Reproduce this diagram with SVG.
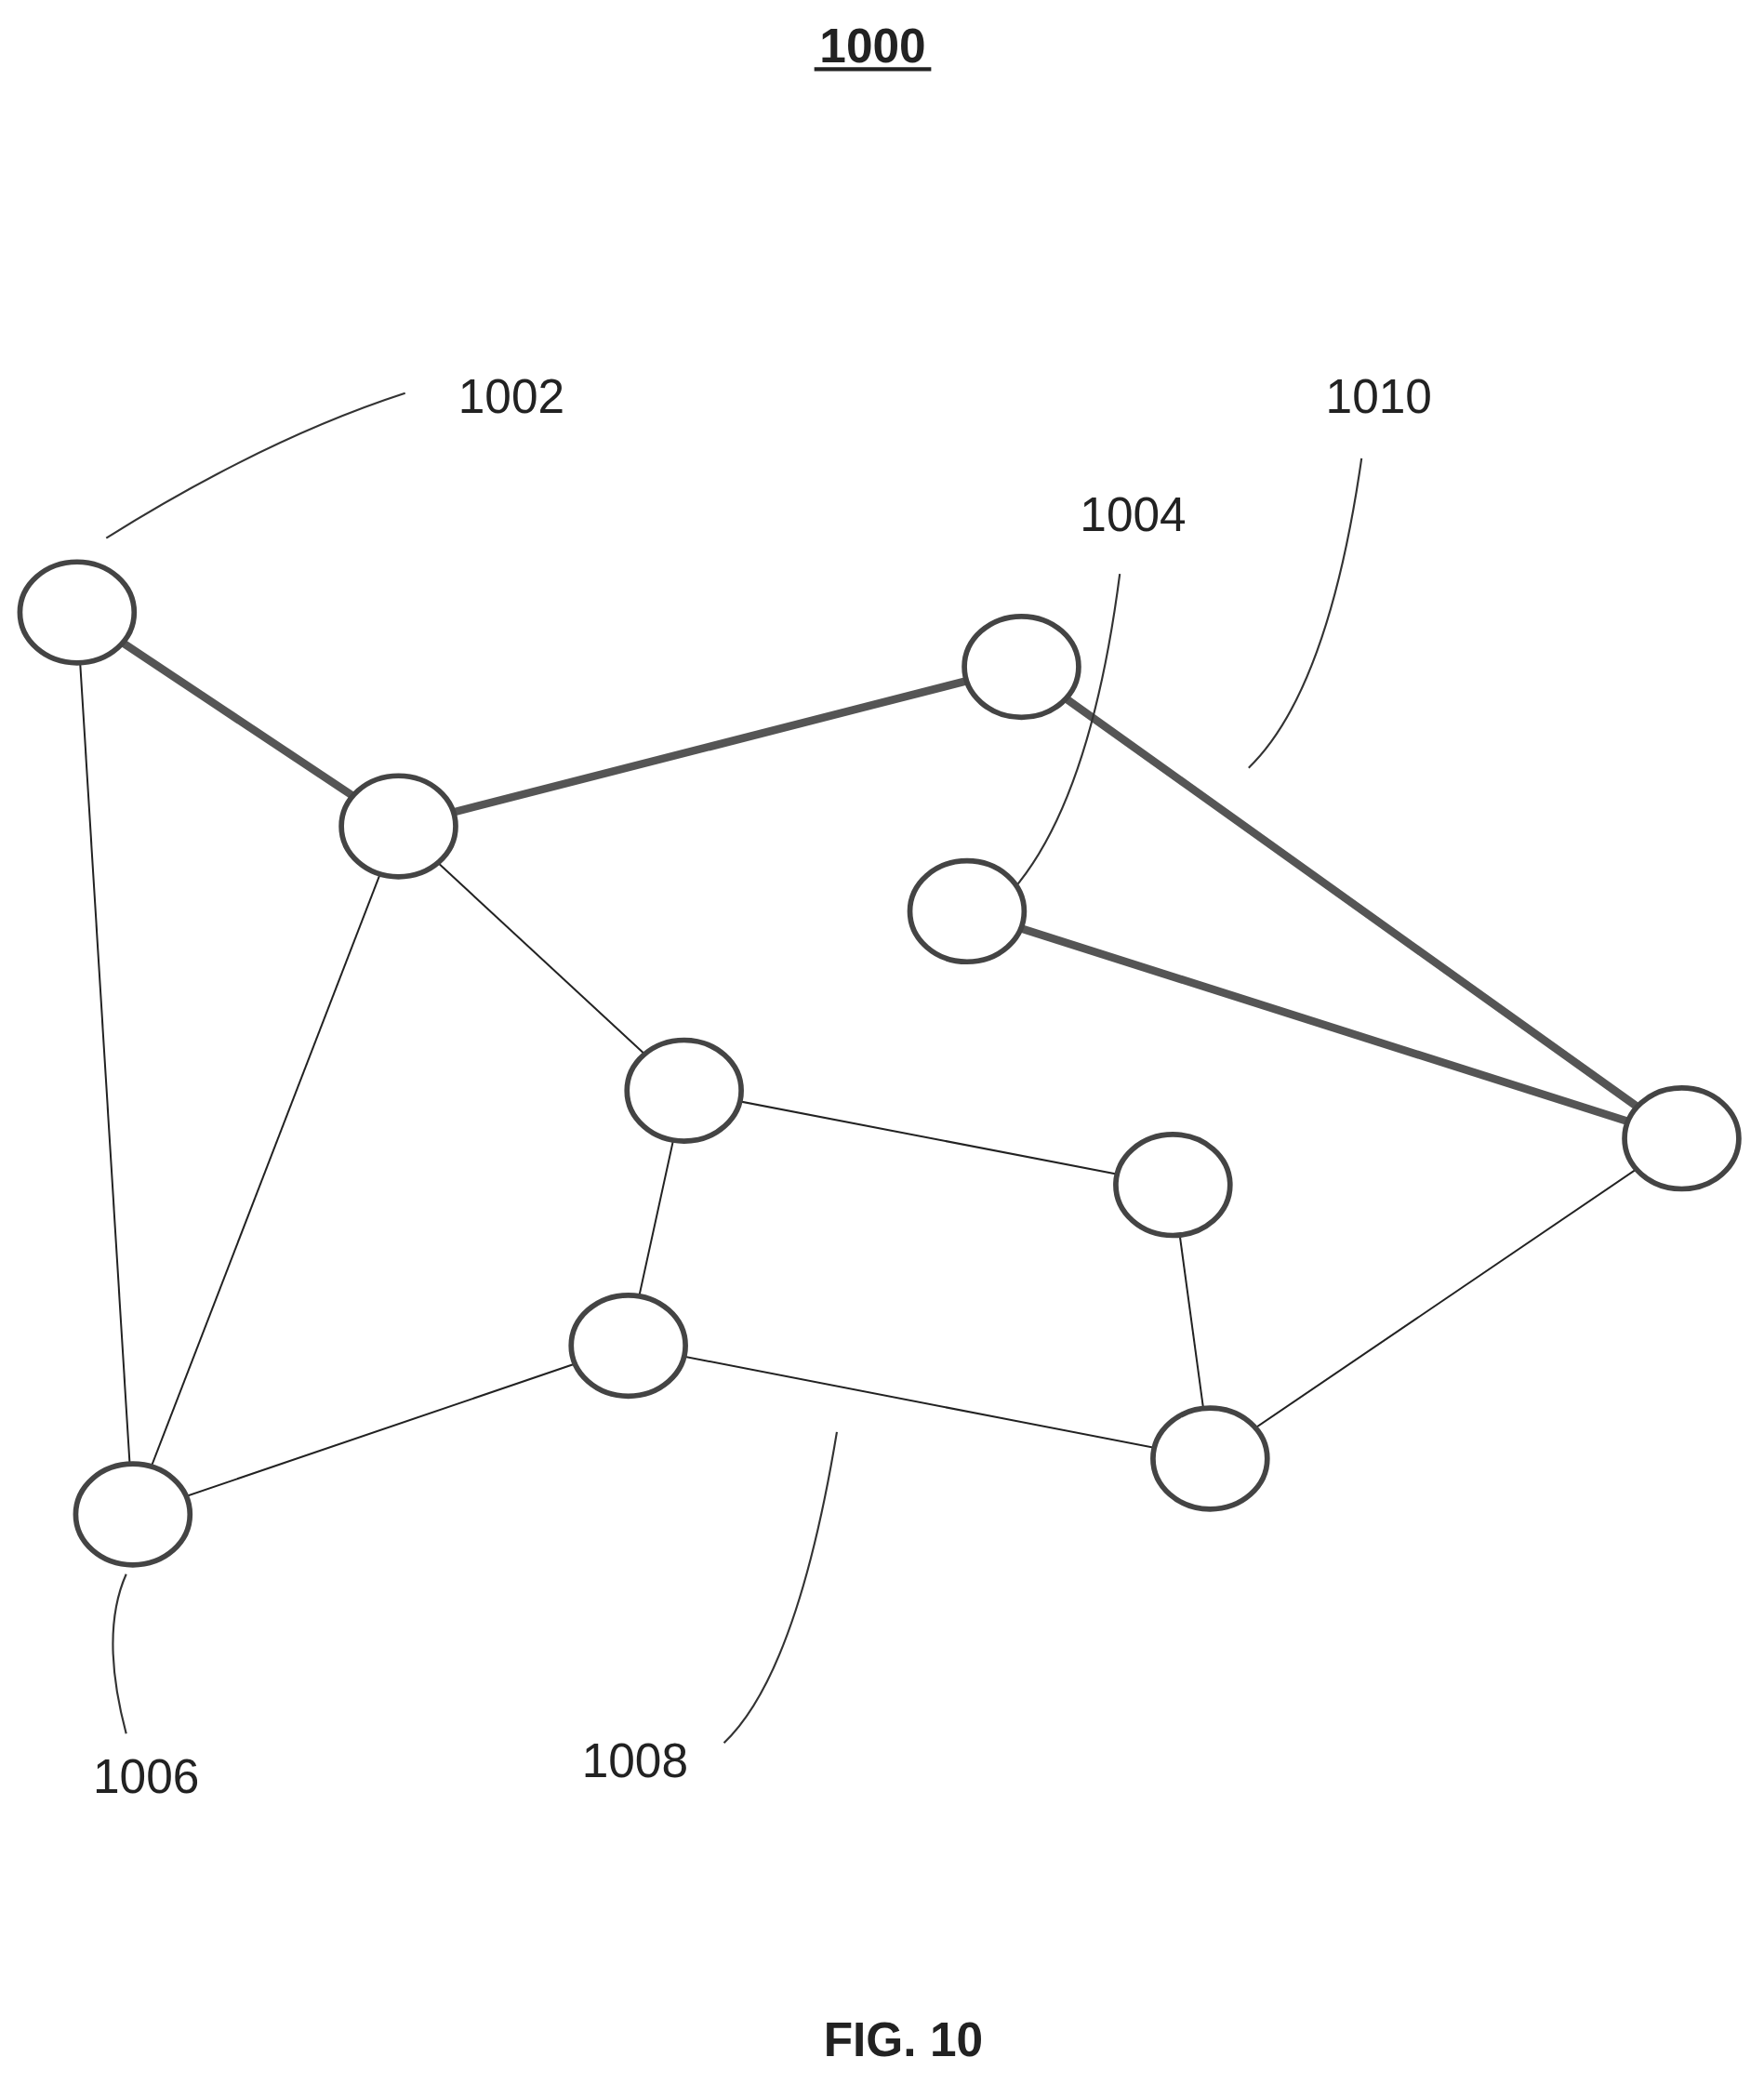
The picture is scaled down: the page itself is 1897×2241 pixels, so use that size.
<svg xmlns="http://www.w3.org/2000/svg" width="1897" height="2241" viewBox="0 0 1897 2241">
<style>
.n{fill:#fff;stroke:#444;stroke-width:4}
.thin{stroke:#222;stroke-width:1.4;fill:none}
.thick{stroke:#555;stroke-width:6;fill:none}
.ld{stroke:#333;stroke-width:1.5;fill:none}
.t{font-family:"Liberation Sans",Arial,sans-serif;font-size:36px;fill:#222}
.b{font-family:"Liberation Sans",Arial,sans-serif;font-size:36px;font-weight:bold;fill:#222}
</style>
<rect width="1897" height="2241" fill="#fff"/>
<g transform="scale(1.4285)">
<g id="connectors">
<line class="thick" x1="58" y1="461" x2="300" y2="622"/>
<line class="thick" x1="300" y1="622" x2="769" y2="502"/>
<line class="thick" x1="769" y1="502" x2="1266" y2="857"/>
<line class="thick" x1="728" y1="686" x2="1266" y2="857"/>
<line class="thin" x1="58" y1="461" x2="100" y2="1140"/>
<line class="thin" x1="300" y1="622" x2="100" y2="1140"/>
<line class="thin" x1="300" y1="622" x2="515" y2="821"/>
<line class="thin" x1="515" y1="821" x2="883" y2="892"/>
<line class="thin" x1="515" y1="821" x2="473" y2="1013"/>
<line class="thin" x1="473" y1="1013" x2="100" y2="1140"/>
<line class="thin" x1="473" y1="1013" x2="911" y2="1098"/>
<line class="thin" x1="883" y1="892" x2="911" y2="1098"/>
<line class="thin" x1="911" y1="1098" x2="1266" y2="857"/>
<path class="ld" d="M80,405 Q200,330 305,296"/>
<path class="ld" d="M843,432 Q820,610 757,676"/>
<path class="ld" d="M1025,345 Q1000,520 940,578"/>
<path class="ld" d="M95,1185 Q75,1230 95,1305"/>
<path class="ld" d="M630,1078 Q600,1260 545,1312"/>
</g>
<g id="nA"><ellipse class="n" cx="58" cy="461" rx="43" ry="38"/></g>
<g id="nB"><ellipse class="n" cx="300" cy="622" rx="43" ry="38"/></g>
<g id="nC"><ellipse class="n" cx="769" cy="502" rx="43" ry="38"/></g>
<g id="nD"><ellipse class="n" cx="728" cy="686" rx="43" ry="38"/></g>
<g id="nE"><ellipse class="n" cx="1266" cy="857" rx="43" ry="38"/></g>
<g id="nF"><ellipse class="n" cx="515" cy="821" rx="43" ry="38"/></g>
<g id="nG"><ellipse class="n" cx="883" cy="892" rx="43" ry="38"/></g>
<g id="nH"><ellipse class="n" cx="473" cy="1013" rx="43" ry="38"/></g>
<g id="nI"><ellipse class="n" cx="911" cy="1098" rx="43" ry="38"/></g>
<g id="nJ"><ellipse class="n" cx="100" cy="1140" rx="43" ry="38"/></g>
<g id="labels">
<text class="b" x="657" y="47" text-anchor="middle">1000</text>
<line x1="613" y1="52" x2="701" y2="52" stroke="#222" stroke-width="3"/>
<text class="t" x="385" y="311" text-anchor="middle">1002</text>
<text class="t" x="853" y="400" text-anchor="middle">1004</text>
<text class="t" x="1038" y="311" text-anchor="middle">1010</text>
<text class="t" x="110" y="1350" text-anchor="middle">1006</text>
<text class="t" x="478" y="1338" text-anchor="middle">1008</text>
<text class="b" x="680" y="1548" text-anchor="middle">FIG. 10</text>
</g>
</g>
</svg>
